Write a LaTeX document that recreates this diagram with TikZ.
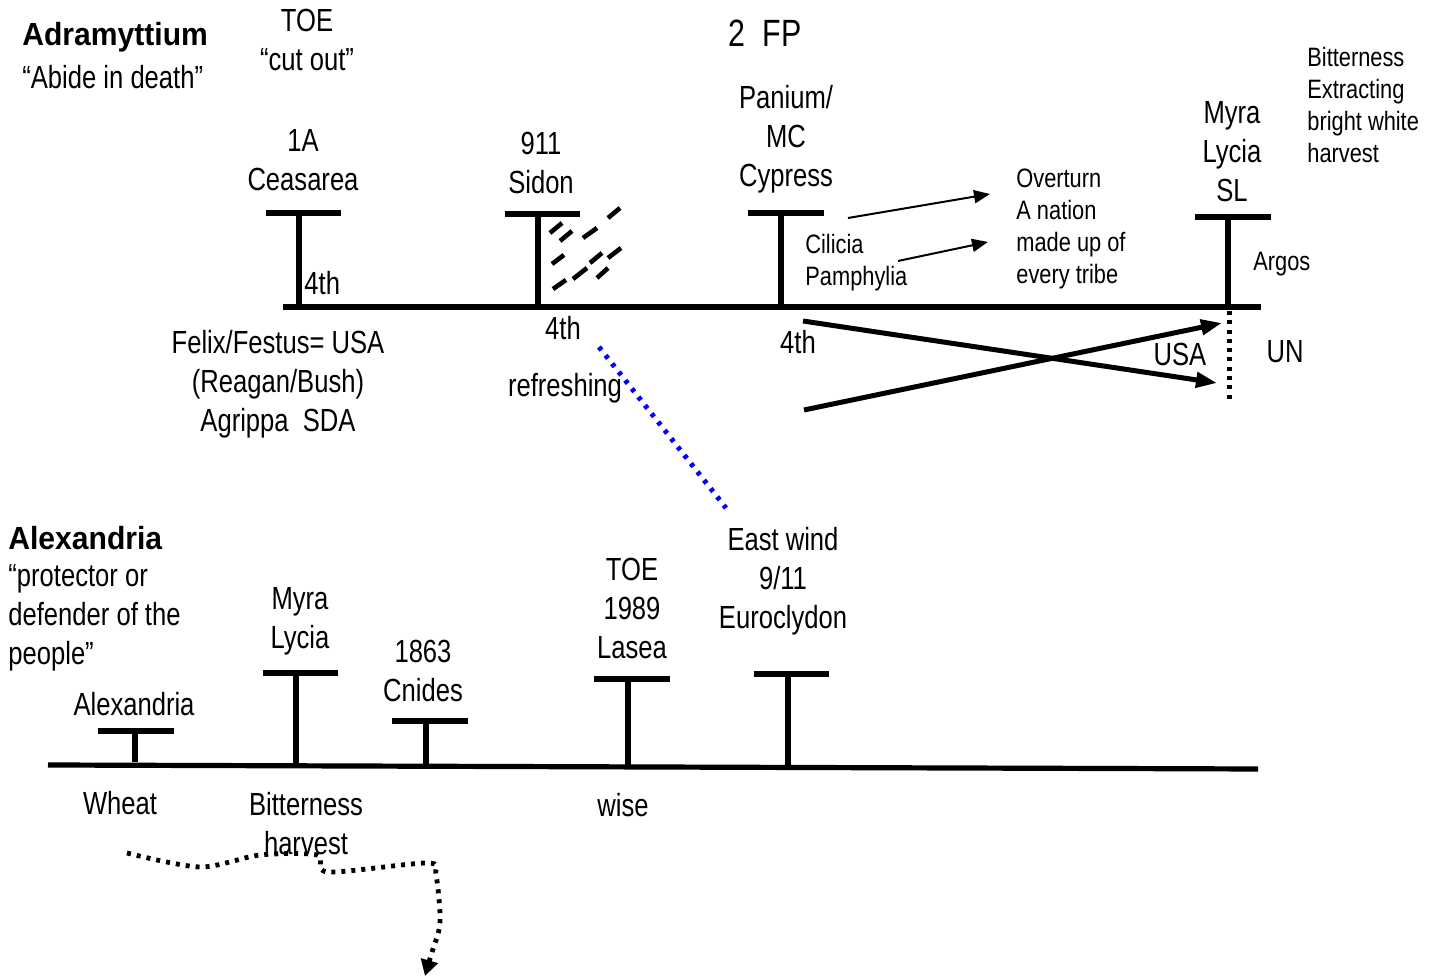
\documentclass[tikz,border=0pt]{standalone}
\usepackage{fontspec}
\setmainfont{Liberation Sans}[FakeStretch=0.8]
\newfontfamily\smallfam{Liberation Sans}[FakeStretch=0.82]
\newfontfamily\titlefam{Liberation Sans}[FakeStretch=0.94]
\usetikzlibrary{positioning,arrows.meta}

\begin{document}
\begin{tikzpicture}[
  x=0.5pt, y=-0.5pt,
  every node/.style={inner sep=0pt, font=\fontsize{16}{19.5}\selectfont},
  lbl/.style={align=center},
  lft/.style={align=left, anchor=west},
  sml/.style={align=left, anchor=west, font=\smallfam\fontsize{13.3}{16}\selectfont},
  ttl/.style={anchor=west, font=\titlefam\bfseries\fontsize{16}{19.5}\selectfont},
  big/.style={font=\fontsize{19}{22}\selectfont},
  rail/.style={line width=2.6pt},
  hatch/.style={line width=2.3pt},
  thin arr/.style={line width=1pt, -{Triangle[length=8pt,width=6.5pt]}},
  thick arr/.style={line width=2.5pt, -{Triangle[length=10.5pt,width=7.5pt]}},
  dots/.style={line width=2.5pt, dash pattern=on 2pt off 2.65pt},
  bluedots/.style={blue, line width=2.5pt, dash pattern=on 2pt off 3.3pt},
  trail/.style={line width=2.4pt, dash pattern=on 2pt off 3pt, -{Triangle[length=8pt,width=8.5pt]}},
]
\path[fill=white, use as bounding box] (0,0) rectangle (1448,977);

% upper line
\node[ttl] (adra) at (22,37) {Adramyttium};
\node[lft] (adrasub) at (22,77) {“Abide in death”};
\node[lbl] (toe) at (307,40) {TOE\\“cut out”};
\node[lbl, big] (fp) at (765,33) {2\ \ FP};
\node[lbl] (caes) at (303,160) {1A\\Ceasarea};
\node[lbl] (sidon) at (541,163) {911\\Sidon};
\node[lbl] (cypress) at (786,139) {Panium/\\MC\\Cypress};
\node[lbl] (myra) at (1232,152) {Myra\\Lycia\\SL};
\node[sml] (bitter) at (1307,105) {Bitterness\\Extracting\\bright white\\harvest};
\node[lft] (fourthA) at (304,283) {4th};
\node[sml] (cilicia) at (805,263) {Cilicia\\Pamphylia};
\node[sml] (overturn) at (1016,229) {Overturn\\A nation\\made up of\\every tribe};
\node[sml] (argos) at (1253,264) {Argos};
\node[lbl] (fourthB) at (563,328) {4th};
\node[lbl] (fourthC) at (798,342) {4th};
\node[lbl] (felix) at (278,384) {Felix/Festus= USA\\(Reagan/Bush)\\Agrippa\ \ SDA};
\node[lbl] (refresh) at (565,388) {refreshing};
\node[lbl] (usa) at (1180,354) {USA};
\node[lbl] (un) at (1285,352) {UN};

\draw[rail] (283,307) -- (1261,307);
\draw[rail] (266,213) -- (341,213); \draw[rail] (299,213) -- (299,307);
\draw[rail] (505,214) -- (580,214); \draw[rail] (538,214) -- (538,307);
\draw[rail] (748,213) -- (824,213); \draw[rail] (781,213) -- (781,307);
\draw[rail] (1195,217) -- (1271,217); \draw[rail] (1228,217) -- (1228,307);
\draw[dots] (1229,311) -- (1229,402);

% hatching beside Sidon
\draw[hatch] (550,233) -- (562,223) (560,241) -- (572,231) (583,238) -- (597,228)
  (608,218) -- (620,208) (552,264) -- (564,255) (590,263) -- (602,253)
  (608,258) -- (621,248) (553,289) -- (566,280) (573,279) -- (587,268)
  (597,278) -- (608,268);

\coordinate (cyp-from) at (848,218); \coordinate (cyp-to) at (990,194);
\coordinate (cil-from) at (898,261); \coordinate (cil-to) at (988,242);
\draw[thin arr] (cyp-from) -- (cyp-to);
\draw[thin arr] (cil-from) -- (cil-to);

\coordinate (xa-from) at (803,321); \coordinate (xa-to) at (1217,383);
\coordinate (xb-from) at (804,410); \coordinate (xb-to) at (1222,323);
\draw[thick arr] (xa-from) -- (xa-to);
\draw[thick arr] (xb-from) -- (xb-to);

\coordinate (refresh-dot) at (599,347); \coordinate (wind-dot) at (726,508);
\draw[bluedots] (refresh-dot) -- (wind-dot);

% lower line
\node[ttl] (alex) at (8,538) {Alexandria};
\node[lft] (alexsub) at (8,618) {“protector or\\defender of the\\people”};
\node[lbl] (alexlbl) at (134,704) {Alexandria};
\node[lbl] (myraB) at (300,621) {Myra\\Lycia};
\node[lbl] (cnides) at (423,671) {1863\\Cnides};
\node[lbl] (lasea) at (632,608) {TOE\\1989\\Lasea};
\node[lbl] (euro) at (783,581) {East wind\\9/11\\Euroclydon};
\node[lbl] (wheat) at (120,803) {Wheat};
\node[lbl] (bitterB) at (306,824) {Bitterness\\harvest};
\node[lbl] (wise) at (623,805) {wise};

\draw[rail] (48,765) -- (1258,769);
\draw[rail] (98,731) -- (174,731); \draw[rail] (135,731) -- (135,762);
\draw[rail] (263,673) -- (338,673); \draw[rail] (296,673) -- (296,766);
\draw[rail] (392,721) -- (468,721); \draw[rail] (426,721) -- (426,767);
\draw[rail] (594,679) -- (670,679); \draw[rail] (628,679) -- (628,768);
\draw[rail] (754,674) -- (829,674); \draw[rail] (788,674) -- (788,767);

\coordinate (trail-from) at (127,853); \coordinate (trail-to) at (425,976);
\draw[trail] plot[smooth, tension=0.5] coordinates {(trail-from) (200,867) (260,855)
  (317,855) (328,872) (427,863) (436,875) (440,923) (431,955) (trail-to)};
\end{tikzpicture}
\end{document}
